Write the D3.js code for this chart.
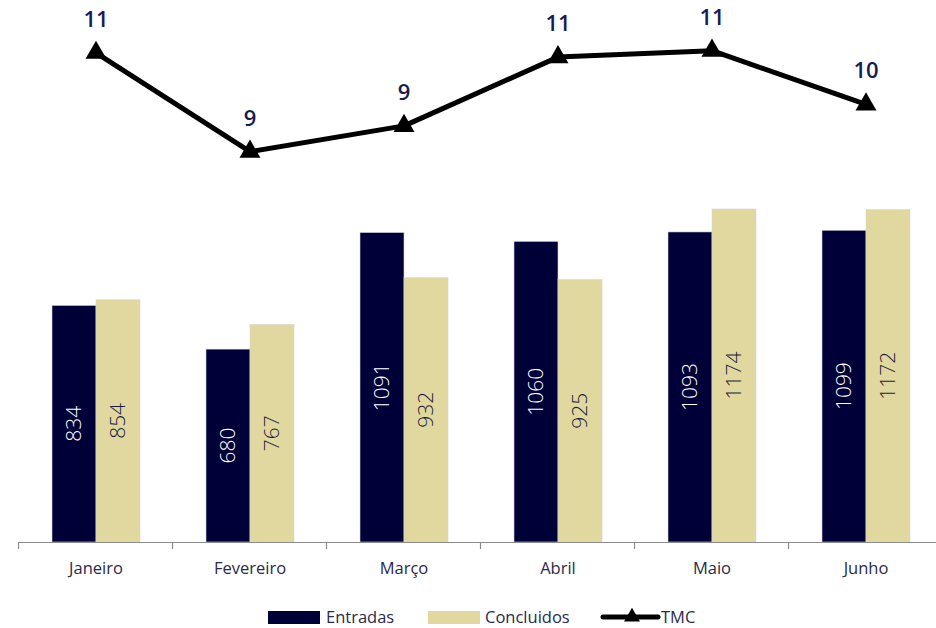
<!DOCTYPE html>
<html>
<head>
<meta charset="utf-8">
<script src="https://cdn.jsdelivr.net/npm/d3@7"></script>
<style>
  body { margin: 0; background: #fff; }
  svg { display: block; font-family: "Open Sans", "Noto Sans", sans-serif; }
</style>
</head>
<body>
<div id="chart"></div>
<script>
var months = ["Janeiro", "Fevereiro", "Março", "Abril", "Maio", "Junho"];
var entradas = [834, 680, 1091, 1060, 1093, 1099];
var concluidos = [854, 767, 932, 925, 1174, 1172];
var tmc = [10.9, 8.6, 9.2, 10.8, 10.95, 9.7];

var navy = "#000038", beige = "#e0d89e";

var svg = d3.select("#chart").append("svg")
    .attr("width", 936)
    .attr("height", 628);

var x = d3.scaleBand().domain(months).range([19, 943]);
var yBar = d3.scaleLinear().domain([0, 1200]).range([542, 201.6]);
var yLine = d3.scaleLinear().domain([8, 12]).range([177.5, 5.5]);

var barW = 44;

// bars
var groups = svg.selectAll("g.month")
    .data(months)
  .enter().append("g")
    .attr("class", "month");

function drawBars(vals, offset, fill, textColor) {
    groups.append("rect")
        .attr("x", function(d){ return x(d) + x.bandwidth() / 2 + offset; })
        .attr("y", function(d, i){ return yBar(vals[i]); })
        .attr("width", barW)
        .attr("height", function(d, i){ return yBar(0) - yBar(vals[i]); })
        .style("fill", fill)
        .style("stroke", "#d8d8d8")
        .style("stroke-width", 0.6);
    groups.append("text")
        .attr("transform", function(d, i){
            var cx = x(d) + x.bandwidth() / 2 + offset + barW / 2,
                cy = (yBar(vals[i]) + yBar(0)) / 2;
            return "translate(" + cx + "," + cy + ") rotate(-90)";
        })
        .attr("text-anchor", "middle")
        .attr("dy", "0.35em")
        .style("font-size", "21px")
        .style("font-weight", 300)
        .style("fill", textColor)
        .text(function(d, i){ return vals[i]; });
}
drawBars(entradas, -barW, navy, "#ffffff");
drawBars(concluidos, 0, beige, "#1a1a40");

// axis
var axisG = svg.append("g").attr("class", "axis");
axisG.append("line")
    .attr("x1", 19).attr("x2", 936)
    .attr("y1", 542.5).attr("y2", 542.5)
    .style("stroke", "#8c8c8c").style("stroke-width", 1.2);
axisG.selectAll("line.tick")
    .data(months)
  .enter().append("line")
    .attr("class", "tick")
    .attr("x1", function(d){ return Math.round(x(d)) - 0.5; })
    .attr("x2", function(d){ return Math.round(x(d)) - 0.5; })
    .attr("y1", 542).attr("y2", 549)
    .style("stroke", "#8c8c8c").style("stroke-width", 1.2);
axisG.selectAll("text")
    .data(months)
  .enter().append("text")
    .attr("x", function(d){ return x(d) + x.bandwidth() / 2; })
    .attr("y", 574)
    .attr("text-anchor", "middle")
    .style("font-size", "16.5px")
    .style("fill", "#2a2a4a")
    .text(function(d){ return d; });

// TMC line
var line = d3.line()
    .x(function(d, i){ return x(months[i]) + x.bandwidth() / 2; })
    .y(function(d){ return yLine(d); });

svg.append("path")
    .datum(tmc)
    .attr("d", line)
    .style("fill", "none")
    .style("stroke", "#000")
    .style("stroke-width", 5)
    .style("stroke-linejoin", "round");

var tri = d3.symbol().type(d3.symbolTriangle).size(190);
svg.selectAll("path.marker")
    .data(tmc)
  .enter().append("path")
    .attr("class", "marker")
    .attr("d", tri)
    .attr("transform", function(d, i){
        return "translate(" + (x(months[i]) + x.bandwidth() / 2) + "," + yLine(d) + ")";
    })
    .style("fill", "#000");

var fmt = d3.format(".0f");
svg.selectAll("text.tmc")
    .data(tmc)
  .enter().append("text")
    .attr("class", "tmc")
    .attr("x", function(d, i){ return x(months[i]) + x.bandwidth() / 2; })
    .attr("y", function(d){ return yLine(d) - 26; })
    .attr("text-anchor", "middle")
    .style("font-size", "22px")
    .style("font-weight", 600)
    .style("fill", "#1a1a50")
    .text(function(d){ return fmt(d); });

// legend
var legend = svg.append("g").attr("class", "legend");
legend.append("rect").attr("x", 268).attr("y", 611).attr("width", 52).attr("height", 13).style("fill", navy);
legend.append("text").attr("x", 326).attr("y", 623).text("Entradas");
legend.append("rect").attr("x", 428).attr("y", 611).attr("width", 52).attr("height", 13).style("fill", beige);
legend.append("text").attr("x", 485).attr("y", 623).text("Concluidos");
legend.append("line").attr("x1", 603).attr("x2", 658).attr("y1", 617).attr("y2", 617)
    .style("stroke", "#000").style("stroke-width", 5).style("stroke-linecap", "round");
legend.append("path").attr("d", d3.symbol().type(d3.symbolTriangle).size(110))
    .attr("transform", "translate(632,617)").style("fill", "#000");
legend.append("text").attr("x", 661).attr("y", 623).text("TMC");
legend.selectAll("text")
    .style("font-size", "16.5px")
    .style("fill", "#2a2a4a");
</script>
</body>
</html>
